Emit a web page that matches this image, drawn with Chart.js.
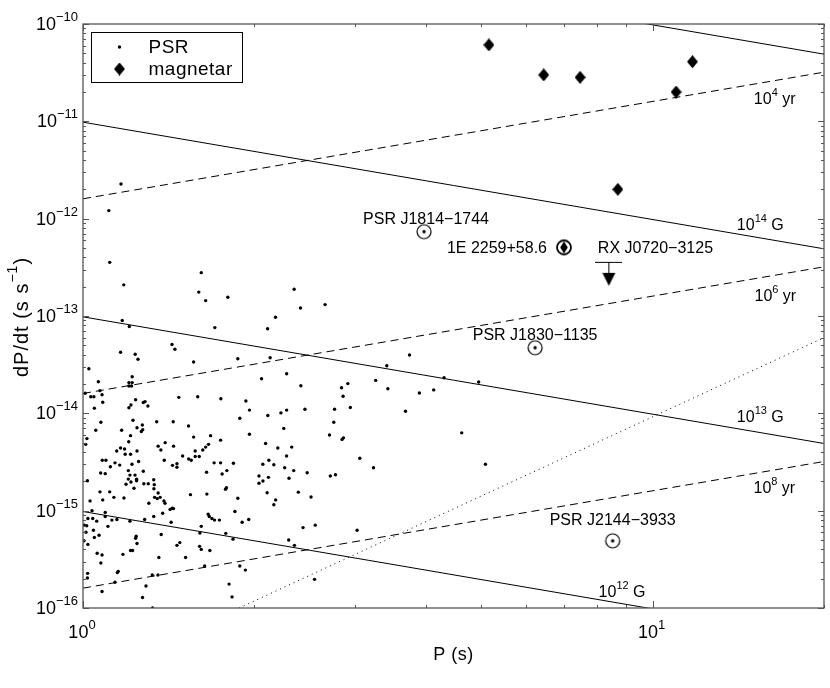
<!DOCTYPE html>
<html>
<head>
<meta charset="utf-8">
<script src="https://cdn.jsdelivr.net/npm/chart.js@4.4.1/dist/chart.umd.min.js"></script>
<style>
  html, body { margin: 0; padding: 0; background: #fff; }
  #wrap { width: 830px; height: 688px; position: relative; }
</style>
</head>
<body>
<div id="wrap"><canvas id="ppdot"></canvas></div>
<script>
const FONT = '"Liberation Sans", Arial, Helvetica, sans-serif';

// radio pulsars, P (s) and dP/dt (s/s)
const psrP = [
  1.166, 1.110, 1.114, 1.179, 1.613, 1.597, 1.642, 1.796, 2.348, 2.409, 2.661,
  1.172, 1.206, 1.704, 1.433, 1.450, 1.164, 1.235, 1.249, 1.564, 1.870,
  1.024, 1.220, 1.064, 1.204, 1.220, 1.204, 1.217, 1.071, 1.009, 1.032,
  1.045, 1.080, 1.083, 1.237, 1.276, 1.285, 1.300, 1.214, 1.204, 1.047,
  1.473, 1.590, 1.746, 1.885, 1.075, 1.224, 1.347, 1.440, 1.053, 1.169,
  1.244, 1.271, 1.273, 1.266, 1.532, 1.212, 1.016, 1.203, 1.564, 1.675,
  1.744, 1.011, 1.146, 1.164, 1.183, 1.186, 1.212, 1.244, 1.355, 1.370,
  1.394, 1.442, 1.574, 1.623, 1.642, 1.661,
  2.178, 2.109, 2.131, 2.058, 2.278, 2.413, 3.415, 3.265, 3.430, 2.917,
  2.844, 2.862, 2.947, 1.932, 1.960, 2.111, 2.226, 2.278, 2.453, 2.765,
  2.756, 2.252, 1.960, 2.709, 2.866, 2.850, 2.092, 2.198, 2.325,
  3.744, 3.896, 4.128, 4.305, 4.951, 3.683, 4.623, 3.062, 3.236, 5.088,
  1.496, 1.533, 1.549, 1.574, 1.600, 1.389, 1.436, 1.462, 1.462, 1.081,
  1.097, 1.117, 1.138, 1.160, 1.201, 1.209, 1.219, 1.234, 1.252, 1.276,
  1.242, 1.074, 1.094, 1.018, 1.071, 1.114, 1.133, 1.180, 1.190, 1.201,
  1.214, 1.242, 1.229, 1.279, 1.302, 1.331, 1.334, 1.332, 1.336, 1.305,
  1.350, 1.355, 1.366, 1.387, 1.393, 1.422, 1.434, 1.442, 1.380, 1.331,
  1.428, 1.283, 1.029, 1.037, 1.083, 1.094, 1.020, 1.040, 1.057, 1.005,
  1.015, 1.012, 1.043, 1.067, 1.020, 1.004, 1.047, 1.059, 1.080, 1.075,
  1.019, 1.018, 1.080, 1.106, 1.124, 1.147, 1.094, 1.209, 1.240, 1.237,
  1.244, 1.212, 1.222, 1.175, 1.149, 1.153, 1.138, 1.323, 1.354, 1.290,
  1.272, 1.325, 1.372, 1.359, 1.462, 1.479, 1.514, 1.544, 1.648, 1.699,
  1.744, 1.755, 1.789, 1.837, 1.786, 1.779, 1.870, 1.848, 1.650, 1.666,
  1.659, 1.684, 1.702, 1.736, 1.613, 1.604, 1.781, 1.834, 1.602, 1.613,
  1.670, 1.635, 1.903, 1.954, 1.885, 1.928, 1.805, 1.827, 2.037, 2.037,
  2.070, 2.069, 2.120, 2.163, 2.116, 2.105, 2.179, 2.163, 2.260, 2.300,
  2.344, 2.277, 2.388, 2.475, 2.514, 2.434, 2.297, 2.351, 2.557, 2.550,
  2.718, 2.775, 3.029
];
const psrPdot = [
  2.27e-12, 1.21e-12, 3.56e-13, 2.09e-13, 2.79e-13, 1.76e-13, 1.44e-13, 1.56e-13, 1.88e-13, 1.21e-13, 1.31e-13,
  9.0e-14, 7.8e-14, 7.6e-14, 5.1e-14, 4.55e-14, 4.24e-14, 4.04e-14, 3.59e-14, 3.37e-14, 3.64e-14,
  2.87e-14, 2.38e-14, 2.11e-14, 2.07e-14, 2.07e-14, 1.91e-14, 1.91e-14, 1.71e-14, 1.61e-14, 1.48e-14,
  1.48e-14, 1.55e-14, 1.30e-14, 1.38e-14, 1.29e-14, 1.32e-14, 1.19e-14, 1.22e-14, 1.14e-14, 1.13e-14,
  1.46e-14, 1.48e-14, 1.41e-14, 8.9e-15, 8.1e-15, 8.5e-15, 8.2e-15, 8.2e-15, 6.7e-15, 6.7e-15,
  7.1e-15, 7.6e-15, 6.8e-15, 6.5e-15, 7.4e-15, 5.9e-15, 5.5e-15, 5.1e-15, 5.7e-15, 5.9e-15,
  5.3e-15, 4.8e-15, 4.1e-15, 4.4e-15, 4.3e-15, 3.8e-15, 3.8e-15, 4.1e-15, 4.6e-15, 4.2e-15,
  5.0e-15, 4.6e-15, 4.1e-15, 4.2e-15, 4.5e-15, 4.8e-15,
  9.7e-14, 7.4e-14, 3.73e-14, 2.27e-14, 2.55e-14, 1.92e-14, 3.08e-14, 2.18e-14, 1.79e-14, 2.02e-14,
  1.83e-14, 1.50e-14, 1.15e-14, 1.34e-14, 1.08e-14, 9.5e-15, 1.01e-14, 1.08e-14, 1.10e-14, 1.10e-14,
  8.1e-15, 7.0e-15, 6.1e-15, 6.0e-15, 5.6e-15, 5.4e-15, 4.9e-15, 4.4e-15, 4.5e-15,
  3.97e-14, 1.62e-14, 1.74e-14, 2.32e-14, 2.10e-14, 1.05e-14, 6.3e-15, 3.45e-15, 2.76e-15, 3.0e-15,
  3.65e-15, 3.4e-15, 3.3e-15, 3.6e-15, 3.6e-15, 3.3e-15, 2.92e-15, 3.04e-15, 2.79e-15, 3.3e-15,
  3.3e-15, 2.83e-15, 3.1e-15, 2.94e-15, 2.58e-15, 2.32e-15, 3.0e-15, 2.32e-15, 3.2e-15, 2.54e-15,
  2.10e-15, 2.44e-15, 2.40e-15, 2.03e-15, 1.56e-15, 1.56e-15, 1.37e-15, 1.35e-15, 1.87e-15, 2.11e-15,
  1.97e-15, 2.03e-15, 1.70e-15, 1.89e-15, 1.89e-15, 2.08e-15, 1.85e-15, 1.68e-15, 1.37e-15, 1.19e-15,
  1.33e-15, 1.52e-15, 1.37e-15, 1.26e-15, 1.19e-15, 1.03e-15, 1.06e-15, 1.05e-15, 9.4e-16, 8.7e-16,
  7.6e-16, 8.1e-16, 1.26e-15, 1.00e-15, 1.29e-15, 9.6e-16, 8.3e-16, 8.3e-16, 7.8e-16, 7.1e-16,
  7.0e-16, 6.0e-16, 6.3e-16, 5.6e-16, 4.5e-16, 4.9e-16, 5.3e-16, 3.65e-16, 3.5e-16, 2.9e-16,
  2.27e-16, 2.03e-16, 1.48e-16, 6.9e-16, 8.0e-16, 8.1e-16, 8.7e-16, 7.8e-16, 5.45e-16, 5.2e-16,
  4.6e-16, 3.9e-16, 3.9e-16, 3.56e-16, 2.31e-16, 2.38e-16, 1.84e-16, 2.18e-16, 2.18e-16, 1.68e-16,
  1.28e-16, 1.0e-16, 5.7e-16, 3.3e-16, 4.4e-16, 4.7e-16, 3.3e-16, 1.46e-15, 2.48e-15, 3.1e-15,
  3.1e-15, 2.38e-15, 2.58e-15, 3.07e-15, 1.72e-15, 1.66e-15, 1.34e-15, 9.8e-16, 1.48e-15, 8.7e-16,
  9.2e-16, 8.3e-16, 8.0e-16, 8.0e-16, 6.9e-16, 5.9e-16, 5.85e-16, 5.1e-16, 4.3e-16, 4.0e-16,
  3.9e-16, 2.7e-16, 7.6e-16, 8.1e-16, 2.7e-16, 2.45e-16, 1.76e-16, 1.30e-16, 2.27e-15, 1.91e-15,
  2.02e-15, 3.0e-15, 3.3e-15, 2.96e-15, 2.20e-15, 1.53e-15, 1.29e-15, 1.15e-15, 2.76e-15, 2.15e-15,
  2.58e-15, 3.65e-15, 1.55e-15, 2.45e-15, 1.38e-15, 6.7e-16, 5.0e-16, 4.4e-16, 7.1e-16, 1.97e-16,
  2.27e-15, 2.34e-15, 6.3e-16
];

// magnetars
const magP = [5.16, 6.44, 7.46, 11.0, 11.75, 8.69];
const magPdot = [6.1e-11, 3.0e-11, 2.83e-11, 2.0e-11, 4.1e-11, 2.0e-12];

// named sources
const circledNames = ['PSR J1814\u22121744', 'PSR J1830\u22121135', 'PSR J2144\u22123933'];
const circledP = [3.97, 6.22, 8.51];
const circledPdot = [7.35e-13, 4.72e-14, 4.9e-16];
const axpName = '1E 2259+58.6';
const axpP = [6.99];
const axpPdot = [5.07e-13];
const limitName = 'RX J0720\u22123125';
const limitP = [8.38];
const limitPdot = [3.6e-13];

// constant B field (solid) and age (dashed) guides, plus the dotted line
const guideP = [1, 20];
const field12 = [9.8e-16, 4.9e-17];
const field13 = [9.8e-14, 4.9e-15];
const field14 = [9.8e-12, 4.9e-13];
const field15 = [9.8e-10, 4.9e-11];
const age4 = [1.6e-12, 3.2e-11];
const age6 = [1.6e-14, 3.2e-13];
const age8 = [1.6e-16, 3.2e-15];
const deathP = [1.88, 20];
const deathPdot = [1e-16, 6e-14];

const guideLabels = [['10', '12', ' G'], ['10', '13', ' G'], ['10', '14', ' G'], ['10', '4', ' yr'], ['10', '6', ' yr'], ['10', '8', ' yr']];
const guideLabelP = [8.04, 14.06, 14.06, 15.06, 15.1, 15.04];
const guideLabelPdot = [1.45e-16, 8.95e-15, 8.4e-13, 1.66e-11, 1.58e-13, 1.67e-15];

// axis ticks
const xTickVals = [1, 10];
const xTickExp = ['0', '1'];
const yTickVals = [1e-16, 1e-15, 1e-14, 1e-13, 1e-12, 1e-11, 1e-10];
const yTickExp = ['\u221216', '\u221215', '\u221214', '\u221213', '\u221212', '\u221211', '\u221210'];

function pairs(xs, ys) {
  return xs.map((x, i) => ({ x: x, y: ys[i] }));
}

// little canvases used as point styles
function makeDiamond(w, h) {
  const c = document.createElement('canvas');
  c.width = w; c.height = h;
  const g = c.getContext('2d');
  g.fillStyle = '#000';
  g.beginPath();
  g.moveTo(w / 2, 0); g.lineTo(w, h / 2); g.lineTo(w / 2, h); g.lineTo(0, h / 2);
  g.closePath();
  g.fill();
  return c;
}

function makeCircled(withDiamond) {
  const c = document.createElement('canvas');
  c.width = 18; c.height = 18;
  const g = c.getContext('2d');
  g.strokeStyle = '#000';
  g.fillStyle = '#000';
  g.lineWidth = withDiamond ? 1.8 : 1.2;
  g.beginPath();
  g.arc(9, 9, 7, 0, Math.PI * 2);
  g.stroke();
  g.beginPath();
  if (withDiamond) {
    g.moveTo(9, 3); g.lineTo(12.8, 9); g.lineTo(9, 15); g.lineTo(5.2, 9);
    g.closePath();
  } else {
    g.arc(9, 9, 1.7, 0, Math.PI * 2);
  }
  g.fill();
  return c;
}

function makeLimit() {
  const c = document.createElement('canvas');
  c.width = 27; c.height = 50;
  const g = c.getContext('2d');
  g.strokeStyle = '#000';
  g.fillStyle = '#000';
  g.lineWidth = 1;
  g.beginPath();
  g.moveTo(0, 25.5); g.lineTo(27, 25.5);
  g.moveTo(13.5, 25.5); g.lineTo(13.5, 37);
  g.stroke();
  g.beginPath();
  g.moveTo(7, 36); g.lineTo(20, 36); g.lineTo(13.5, 49);
  g.closePath();
  g.fill();
  return c;
}

const diamondImg = makeDiamond(11, 13);

function guide(ys, dash, xs) {
  return {
    data: pairs(xs || guideP, ys),
    showLine: true,
    borderColor: '#000',
    borderWidth: 1,
    borderDash: dash,
    pointRadius: 0,
    pointHoverRadius: 0,
    order: 10
  };
}

// text with superscript parts: [[text, isSup], ...]
function drawParts(ctx, parts, x, y, size, align, spacing) {
  const supSize = Math.round(size * 0.7);
  ctx.letterSpacing = (spacing || 0) + 'px';
  const widths = parts.map(p => {
    ctx.font = (p[1] ? supSize : size) + 'px ' + FONT;
    return ctx.measureText(p[0]).width;
  });
  const total = widths.reduce((a, b) => a + b, 0);
  let cx = align === 'center' ? x - total / 2 : align === 'right' ? x - total : x;
  ctx.textAlign = 'left';
  ctx.textBaseline = 'middle';
  parts.forEach((p, i) => {
    ctx.font = (p[1] ? supSize : size) + 'px ' + FONT;
    ctx.fillText(p[0], cx, p[1] ? y - size * 0.42 : y);
    cx += widths[i];
  });
  ctx.letterSpacing = '0px';
}

const decorPlugin = {
  id: 'decor',
  afterDraw(chart) {
    const ctx = chart.ctx;
    const a = chart.chartArea;
    const xs = chart.scales.x, ys = chart.scales.y;
    ctx.save();
    ctx.fillStyle = '#000';

    // frame and inward ticks
    ctx.strokeStyle = '#555';
    ctx.lineWidth = 1.3;
    ctx.strokeRect(a.left, a.top, a.right - a.left, a.bottom - a.top);
    ctx.lineWidth = 1;
    ctx.beginPath();
    for (let e = -16; e <= -10; e++) {
      for (let m = 1; m <= 9; m++) {
        const v = m * Math.pow(10, e);
        if (v > 1.0001e-10) break;
        const py = Math.round(ys.getPixelForValue(v)) + 0.5;
        const len = m === 1 ? 6 : 3;
        ctx.moveTo(a.left, py); ctx.lineTo(a.left + len, py);
        ctx.moveTo(a.right, py); ctx.lineTo(a.right - len, py);
      }
    }
    for (let e = 0; e <= 1; e++) {
      for (let m = 1; m <= 9; m++) {
        const v = m * Math.pow(10, e);
        if (v > 20) break;
        const px = Math.round(xs.getPixelForValue(v)) + 0.5;
        const len = m === 1 ? 7 : 3;
        ctx.moveTo(px, a.bottom); ctx.lineTo(px, a.bottom - len);
        ctx.moveTo(px, a.top); ctx.lineTo(px, a.top + len);
      }
    }
    ctx.stroke();

    // tick labels
    yTickVals.forEach((v, i) => {
      drawParts(ctx, [['10', false], [yTickExp[i], true]], a.left - 5, ys.getPixelForValue(v) + 1, 18, 'right');
    });
    xTickVals.forEach((v, i) => {
      drawParts(ctx, [['10', false], [xTickExp[i], true]], xs.getPixelForValue(v) - 1, a.bottom + 25, 18, 'center');
    });

    // axis titles
    drawParts(ctx, [['P (s)', false]], (a.left + a.right) / 2, a.bottom + 47, 18, 'center', 0.5);
    ctx.save();
    ctx.translate(22, 317);
    ctx.rotate(-Math.PI / 2);
    drawParts(ctx, [['dP/dt (s s', false], ['\u22121', true], [')', false]], 0, 0, 20, 'center', 1);
    ctx.restore();

    // guide line labels
    guideLabels.forEach((lab, i) => {
      drawParts(ctx, [[lab[0], false], [lab[1], true], [lab[2], false]],
        xs.getPixelForValue(guideLabelP[i]), ys.getPixelForValue(guideLabelPdot[i]), 16, 'left');
    });

    // source names
    const dy = [-12, -12, -20];
    const dx = [2, 0, 0];
    circledNames.forEach((name, i) => {
      drawParts(ctx, [[name, false]], xs.getPixelForValue(circledP[i]) + dx[i],
        ys.getPixelForValue(circledPdot[i]) + dy[i], 16, 'center');
    });
    drawParts(ctx, [[axpName, false]], xs.getPixelForValue(axpP[0]) - 17, ys.getPixelForValue(axpPdot[0]) + 1.5, 16, 'right');
    drawParts(ctx, [[limitName, false]], xs.getPixelForValue(limitP[0]) - 11, ys.getPixelForValue(limitPdot[0]) - 13, 16, 'left');

    // legend box
    const lx = a.left + 8.5, ly = a.top + 8.5;
    ctx.fillStyle = '#fff';
    ctx.fillRect(lx, ly, 151, 50);
    ctx.strokeStyle = '#000';
    ctx.lineWidth = 1;
    ctx.strokeRect(lx, ly, 151, 50);
    ctx.fillStyle = '#000';
    ctx.beginPath();
    ctx.arc(lx + 28, ly + 14.5, 1.7, 0, Math.PI * 2);
    ctx.fill();
    ctx.drawImage(diamondImg, lx + 28 - 5.5, ly + 36.5 - 6.5);
    drawParts(ctx, [['PSR', false]], lx + 57, ly + 15, 19, 'left', 0.5);
    drawParts(ctx, [['magnetar', false]], lx + 57, ly + 37, 19, 'left', 0.5);

    ctx.restore();
  }
};

const chart = new Chart(document.getElementById('ppdot'), {
  type: 'scatter',
  data: {
    datasets: [
      {
        label: 'PSR',
        data: pairs(psrP, psrPdot),
        pointStyle: 'circle',
        pointRadius: 1.7,
        pointBorderWidth: 0,
        backgroundColor: '#000',
        borderColor: '#000',
        order: 3
      },
      {
        label: 'magnetar',
        data: pairs(magP, magPdot),
        pointStyle: diamondImg,
        order: 1
      },
      {
        label: 'named',
        data: pairs(circledP, circledPdot),
        pointStyle: makeCircled(false),
        order: 1
      },
      {
        label: axpName,
        data: pairs(axpP, axpPdot),
        pointStyle: makeCircled(true),
        order: 1
      },
      {
        label: limitName,
        data: pairs(limitP, limitPdot),
        pointStyle: makeLimit(),
        order: 1
      },
      guide(field12, []),
      guide(field13, []),
      guide(field14, []),
      guide(field15, []),
      guide(age4, [8, 5]),
      guide(age6, [8, 5]),
      guide(age8, [8, 5]),
      guide(deathPdot, [1, 4], deathP)
    ]
  },
  options: {
    responsive: true,
    maintainAspectRatio: false,
    animation: false,
    events: [],
    layout: { padding: { left: 83, top: 24, right: 6, bottom: 80 } },
    scales: {
      x: { type: 'logarithmic', min: 1, max: 20, display: false },
      y: { type: 'logarithmic', min: 1e-16, max: 1e-10, display: false }
    },
    plugins: {
      legend: { display: false },
      tooltip: { enabled: false }
    }
  },
  plugins: [decorPlugin]
});
</script>
</body>
</html>
